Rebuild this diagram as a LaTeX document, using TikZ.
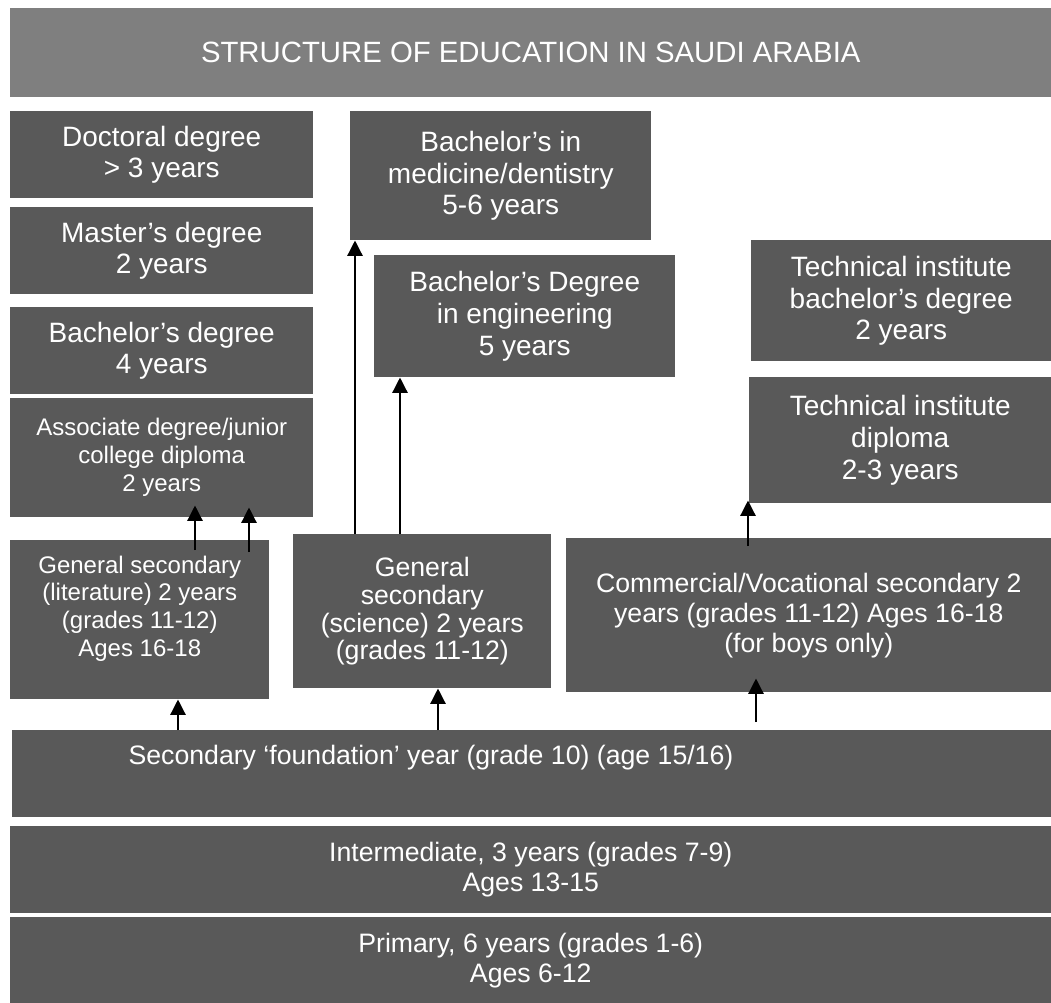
\documentclass[tikz,border=0pt]{standalone}
\usepackage{fontspec}
\setmainfont{Liberation Sans}
\usetikzlibrary{arrows.meta,calc}

\definecolor{boxgray}{RGB}{89,89,89}
\definecolor{titlegray}{RGB}{127,127,127}

\newcommand{\titletext}{\fontsize{22}{26}\selectfont}
\newcommand{\bigtext}{\fontsize{21}{23.75}\selectfont}
\newcommand{\midtext}{\fontsize{20}{22.6}\selectfont}
\newcommand{\scitext}{\fontsize{20}{20.8}\selectfont}
\newcommand{\littext}{\fontsize{18}{20.8}\selectfont}
\newcommand{\smalltext}{\fontsize{18}{21}\selectfont}

\tikzset{
  box/.style={fill=boxgray, text=white, inner sep=0pt, anchor=north west, align=center},
  sz/.style 2 args={minimum width=#1*0.75pt, minimum height=#2*0.75pt},
  arr/.style={draw=black, line width=1pt, -{Triangle[width=11.5pt,length=11.5pt]}}
}

\begin{document}
\begin{tikzpicture}[
            x=0.75pt,
            y=0.75pt,
            yscale=-1,
            xscale=1
        ]
            \useasboundingbox (0,0) rectangle (1051,1003);

            % title bar
            \node[box, fill=titlegray, sz={1041}{89}, font=\titletext] (title) at (10,8) {STRUCTURE OF EDUCATION IN SAUDI ARABIA};

            % higher education
            \node[box, sz={303}{87}, font=\bigtext] (doctoral) at (10,111) {Doctoral degree\\> 3 years};
            \node[box, sz={303}{87}, font=\bigtext] (master) at (10,207) {Master’s degree\\2 years};
            \node[box, sz={303}{87}, font=\bigtext] (bachelor) at (10,307) {Bachelor’s degree\\4 years};
            \node[box, sz={303}{119}, font=\smalltext] (assoc) at (10,398) {Associate degree/junior\\college diploma\\2 years};
            \node[box, sz={301}{129}, font=\bigtext] (medicine) at (350,111) {Bachelor’s in\\medicine/dentistry\\5-6 years};
            \node[box, sz={301}{122}, font=\bigtext] (engineer) at (374,255) {Bachelor’s Degree\\in engineering\\5 years};
            \node[box, sz={300}{121}, font=\bigtext] (techbach) at (751,240) {Technical institute\\bachelor’s degree\\2 years};
            \node[box, sz={302}{126}, font=\bigtext] (techdip) at (749,377) {Technical institute\\diploma\\2-3 years};

            % secondary
            \node[box, sz={259}{159}, font=\littext] (genlit) at (10,540) {General secondary\\(literature) 2 years\\(grades 11-12)\\Ages 16-18\\ \mbox{}};
            \node[box, sz={258}{154}, font=\scitext] (gensci) at (293,534) {General\\secondary\\(science) 2 years\\(grades 11-12)};
            \node[box, sz={485}{154}, font=\midtext] (commerce) at (566,538) {Commercial/Vocational secondary 2\\years (grades 11-12) Ages 16-18\\(for boys only)};

            \node[box, sz={1039}{87}] (found) at (12,730) {};
            \node[font=\midtext, text=white, inner sep=0pt] (foundtext) at (431,758) {Secondary ‘foundation’ year (grade 10) (age 15/16)};

            % basic education
            \node[box, sz={1041}{87}, font=\midtext] (intermed) at (10,826) {Intermediate, 3 years (grades 7-9)\\Ages 13-15};
            \node[box, sz={1041}{86}, font=\midtext] (primary) at (10,917) {Primary, 6 years (grades 1-6)\\Ages 6-12};

            % arrows
            \draw[arr] ($(genlit.north west)+(185,10)$) -- ($(assoc.south west)+(185,-12)$);
            \draw[arr] ($(genlit.north west)+(239,12)$) -- ($(assoc.south west)+(239,-10)$);
            \draw[arr] ($(gensci.north west)+(62,0)$) -- ($(medicine.south west)+(5,0)$);
            \draw[arr] ($(gensci.north west)+(107,0)$) -- ($(engineer.south west)+(26,0)$);
            \draw[arr] ($(found.north west)+(166,0)$) -- ($(genlit.south west)+(168,0)$);
            \draw[arr] ($(found.north west)+(426,0)$) -- ($(gensci.south west)+(145,0)$);
            \draw[arr] ($(found.north west)+(744,-8)$) -- ($(commerce.south west)+(190,-14)$);
            \draw[arr] ($(commerce.north west)+(182,8)$) -- ($(techdip.south west)+(-1,-3)$);
        \end{tikzpicture}
\end{document}
